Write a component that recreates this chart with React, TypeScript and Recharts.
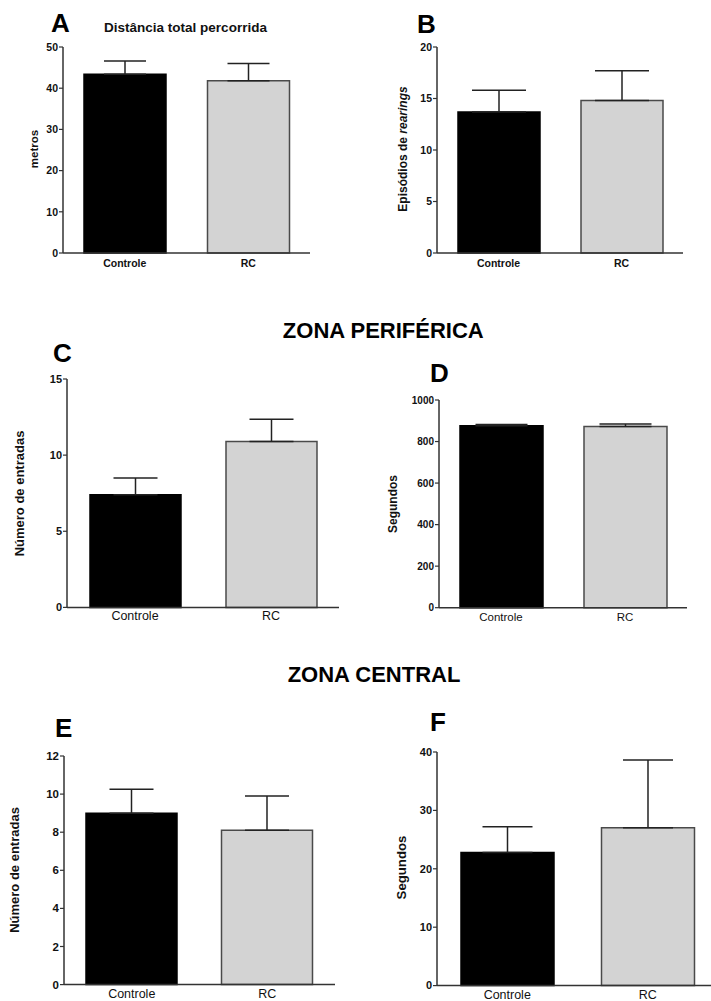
import React from "react";
import { BarChart, Bar, XAxis, YAxis, Cell, ErrorBar } from "recharts";

const groups = ["Controle", "RC"];

// A - distância total percorrida (metros)
const distancia = [43.4, 41.8];
const distanciaSem = [3.2, 4.2];
// B - episódios de rearings
const rearings = [13.7, 14.8];
const rearingsSem = [2.1, 2.9];
// C - zona periférica, número de entradas
const perifEntradas = [7.4, 10.9];
const perifEntradasSem = [1.1, 1.45];
// D - zona periférica, segundos
const perifTempo = [876, 873];
const perifTempoSem = [6, 11];
// E - zona central, número de entradas
const centralEntradas = [9.0, 8.1];
const centralEntradasSem = [1.25, 1.8];
// F - zona central, segundos
const centralTempo = [22.8, 27.05];
const centralTempoSem = [4.4, 11.6];

const ticksA = [0, 10, 20, 30, 40, 50];
const ticksB = [0, 5, 10, 15, 20];
const ticksC = [0, 5, 10, 15];
const ticksD = [0, 200, 400, 600, 800, 1000];
const ticksE = [0, 2, 4, 6, 8, 10, 12];
const ticksF = [0, 10, 20, 30, 40];

const FONT = "'Liberation Sans', Arial, sans-serif";
const FILLS = ["#000000", "#d3d3d3"];
const STROKES = ["#000000", "#4a4a4a"];
const AXIS = "#333333";

type Box = { l: number; r: number; t: number; b: number };

interface PanelProps {
  values: number[];
  sems: number[];
  ticks: number[];
  box: Box;
  barSize: number;
  cap: number;
  yFont: number;
  xFont: number;
  xBold: boolean;
  xGap: number;
}

function Panel({ values, sems, ticks, box, barSize, cap, yFont, xFont, xBold, xGap }: PanelProps) {
  const data = groups.map((g, i) => ({ name: g, value: values[i], err: [0, sems[i]] }));
  const left = box.l - 60;
  const top = box.t - 20;
  const width = box.r - box.l + 70;
  const height = box.b - box.t + 50;
  return (
    <div style={{ position: "absolute", left, top }}>
      <BarChart
        width={width}
        height={height}
        data={data}
        margin={{ top: 20, right: 10, bottom: 10, left: 30 }}
      >
        <XAxis
          dataKey="name"
          height={20}
          axisLine={{ stroke: AXIS, strokeWidth: 1.5 }}
          tickLine={false}
          tickSize={0}
          tickMargin={xGap}
          tick={{ fill: "#111", fontSize: xFont, fontWeight: xBold ? "bold" : "normal", fontFamily: FONT }}
        />
        <YAxis
          width={30}
          domain={[ticks[0], ticks[ticks.length - 1]]}
          ticks={ticks}
          interval={0}
          axisLine={{ stroke: AXIS, strokeWidth: 1.5 }}
          tickLine={{ stroke: AXIS, strokeWidth: 1.2 }}
          tickSize={4}
          tickMargin={1}
          tick={{ fill: "#111", fontSize: yFont, fontWeight: "bold", fontFamily: FONT }}
        />
        <Bar dataKey="value" barSize={barSize} strokeWidth={1.5} isAnimationActive={false}>
          {data.map((d, i) => (
            <Cell key={d.name} fill={FILLS[i]} stroke={STROKES[i]} />
          ))}
          <ErrorBar
            dataKey="err"
            direction="y"
            width={cap}
            stroke="#222"
            strokeWidth={1.5}
            isAnimationActive={false}
          />
        </Bar>
      </BarChart>
    </div>
  );
}

export default function App() {
  const letter = { fontFamily: FONT, fontWeight: "bold", fontSize: 26, fill: "#000" } as const;
  const zone = { fontFamily: FONT, fontWeight: "bold", fontSize: 22, fill: "#000" } as const;
  const ylab = (size: number) => ({ fontFamily: FONT, fontWeight: "bold", fontSize: size, fill: "#111" }) as const;

  return (
    <div
      style={{
        position: "absolute",
        left: 0,
        top: 0,
        width: 711,
        height: 1001,
        overflow: "hidden",
        background: "#fff",
        fontFamily: FONT,
      }}
    >
      <Panel values={distancia} sems={distanciaSem} ticks={ticksA}
        box={{ l: 63, r: 310, t: 46.7, b: 252.7 }} barSize={82} cap={21}
        yFont={10.5} xFont={10.5} xBold xGap={7} />
      <Panel values={rearings} sems={rearingsSem} ticks={ticksB}
        box={{ l: 437, r: 683, t: 46.7, b: 252.7 }} barSize={82} cap={27}
        yFont={10.5} xFont={10.5} xBold xGap={7} />
      <Panel values={perifEntradas} sems={perifEntradasSem} ticks={ticksC}
        box={{ l: 67, r: 339, t: 379.3, b: 607.7 }} barSize={91} cap={22}
        yFont={11} xFont={12.5} xBold={false} xGap={4} />
      <Panel values={perifTempo} sems={perifTempoSem} ticks={ticksD}
        box={{ l: 439, r: 687, t: 400, b: 607.7 }} barSize={83} cap={26}
        yFont={10} xFont={11.5} xBold={false} xGap={5} />
      <Panel values={centralEntradas} sems={centralEntradasSem} ticks={ticksE}
        box={{ l: 64, r: 335, t: 755.7, b: 984.3 }} barSize={91} cap={22}
        yFont={11.5} xFont={12.5} xBold={false} xGap={5} />
      <Panel values={centralTempo} sems={centralTempoSem} ticks={ticksF}
        box={{ l: 437, r: 718, t: 751.7, b: 985.3 }} barSize={93} cap={25}
        yFont={11} xFont={12.5} xBold={false} xGap={5} />

      <svg
        width={711}
        height={1001}
        style={{ position: "absolute", left: 0, top: 0, pointerEvents: "none" }}
      >
        <text x={51} y={31.7} style={letter}>A</text>
        <text x={417} y={33.3} style={letter}>B</text>
        <text x={53} y={361.7} style={letter}>C</text>
        <text x={430} y={381.7} style={letter}>D</text>
        <text x={55} y={736.7} style={letter}>E</text>
        <text x={430} y={730.7} style={letter}>F</text>

        <text x={185.5} y={31.7} textAnchor="middle" style={{ fontFamily: FONT, fontWeight: "bold", fontSize: 13.5, fill: "#111" }}>
          Distância total percorrida
        </text>
        <text x={383.3} y={338.3} textAnchor="middle" style={zone}>ZONA PERIFÉRICA</text>
        <text x={374} y={681.7} textAnchor="middle" style={zone}>ZONA CENTRAL</text>

        <text x={38} y={149} textAnchor="middle" transform="rotate(-90 38 149)" style={ylab(11.5)}>metros</text>
        <text x={407} y={149} textAnchor="middle" transform="rotate(-90 407 149)" style={ylab(12)}>
          <tspan>{"Episódios de "}</tspan>
          <tspan fontStyle="italic">rearings</tspan>
        </text>
        <text x={24} y={493.5} textAnchor="middle" transform="rotate(-90 24 493.5)" style={ylab(13)}>Número de entradas</text>
        <text x={397} y={504} textAnchor="middle" transform="rotate(-90 397 504)" style={ylab(12)}>Segundos</text>
        <text x={18.5} y={870} textAnchor="middle" transform="rotate(-90 18.5 870)" style={ylab(13)}>Número de entradas</text>
        <text x={406} y={867.5} textAnchor="middle" transform="rotate(-90 406 867.5)" style={ylab(13.2)}>Segundos</text>
      </svg>
    </div>
  );
}
